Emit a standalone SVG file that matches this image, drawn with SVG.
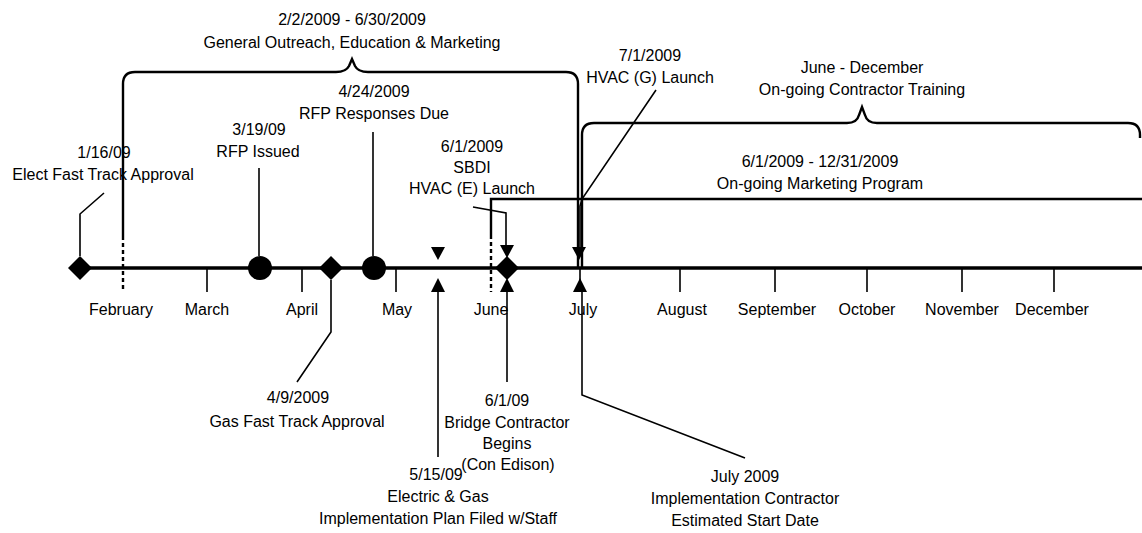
<svg xmlns="http://www.w3.org/2000/svg" width="1142" height="533" viewBox="0 0 1142 533">
<style>
.t{font-family:"Liberation Sans",Arial,sans-serif;font-size:16px;fill:#000;text-anchor:middle}
.axis{stroke:#000;stroke-width:3.5;fill:none}
.tick{stroke:#000;stroke-width:1.6;fill:none}
.lead{fill:none;stroke:#000;stroke-width:1.6}
.brace{fill:none;stroke:#000;stroke-width:2.4}
.dash{fill:none;stroke:#000;stroke-width:2.4;stroke-dasharray:4,3}
.mk{fill:#000;stroke:none}
</style>
<defs>
<path id="dn" d="M-7,0 H7 L0,13 Z"/>
<path id="up" d="M-7,14 H7 L0,0 Z"/>
<path id="dia" d="M0,-12 L12,0 L0,12 L-12,0 Z"/>
</defs>
<rect width="1142" height="533" fill="#fff"/>

<g id="connectors">
<path class="lead" d="M80,256 V214 L104,193"/>
<path class="lead" d="M259,256 V168"/>
<path class="lead" d="M331,280 V332 L297,382"/>
<path class="lead" d="M373,256 V132"/>
<path class="lead" d="M438,292 V457"/>
<path class="lead" d="M473,207 L506,213 V247"/>
<path class="lead" d="M507,292 V382"/>
<path class="lead" d="M656,90 L582,199 L580,206 V247"/>
<path class="lead" d="M582,292 V395 L745,458"/>
</g>

<g id="timeline">
<line class="axis" x1="80" y1="268" x2="1142" y2="268"/>
<path class="tick" d="M207,268 V292 M302,268 V292 M396,268 V292 M580,268 V292 M680,268 V292 M775,268 V292 M867,268 V292 M962,268 V292 M1054,268 V292"/>
<text class="t" x="121" y="315">February</text>
<text class="t" x="207" y="315">March</text>
<text class="t" x="302" y="315">April</text>
<text class="t" x="397" y="315">May</text>
<text class="t" x="491" y="315">June</text>
<text class="t" x="583" y="315">July</text>
<text class="t" x="682" y="315">August</text>
<text class="t" x="777" y="315">September</text>
<text class="t" x="867" y="315">October</text>
<text class="t" x="962" y="315">November</text>
<text class="t" x="1052" y="315">December</text>
</g>

<g id="n-outreach">
<path class="brace" d="M123,236 V84 Q123,72 135,72 H336 Q346,72 349,66 L352,59 L355,66 Q358,72 368,72 H566 Q578,72 578,84 V268"/>
<path class="dash" d="M123,236 V292"/>
<text class="t" x="352" y="25">2/2/2009 - 6/30/2009</text>
<text class="t" x="352" y="48">General Outreach, Education &amp; Marketing</text>
</g>

<g id="n-training">
<path class="brace" d="M582,268 V135 Q582,123 594,123 H847 Q857,123 859,115 L862,107 L865,115 Q867,123 877,123 H1128 Q1140,123 1140,135 V138"/>
<text class="t" x="862" y="73">June - December</text>
<text class="t" x="862" y="95">On-going Contractor Training</text>
</g>

<g id="n-marketing">
<path class="brace" d="M491,235 V199 H1142"/>
<path class="dash" d="M491,235 V292"/>
<text class="t" x="820" y="167">6/1/2009 - 12/31/2009</text>
<text class="t" x="820" y="189">On-going Marketing Program</text>
</g>

<g id="n-elect">
<use href="#dia" class="mk" x="80" y="268"/>
<text class="t" x="104" y="158">1/16/09</text>
<text class="t" x="103" y="180">Elect Fast Track Approval</text>
</g>

<g id="n-rfp-issued">
<circle class="mk" cx="260" cy="268" r="12"/>
<text class="t" x="259" y="135">3/19/09</text>
<text class="t" x="258" y="157">RFP Issued</text>
</g>

<g id="n-gas">
<use href="#dia" class="mk" x="331" y="268"/>
<text class="t" x="298" y="403">4/9/2009</text>
<text class="t" x="297" y="427">Gas Fast Track Approval</text>
</g>

<g id="n-rfp-due">
<circle class="mk" cx="374" cy="268" r="12"/>
<text class="t" x="374" y="97">4/24/2009</text>
<text class="t" x="374" y="119">RFP Responses Due</text>
</g>

<g id="n-plan">
<use href="#dn" class="mk" x="438" y="247"/>
<use href="#up" class="mk" x="438" y="278"/>
<text class="t" x="436" y="480">5/15/09</text>
<text class="t" x="438" y="502">Electric &amp; Gas</text>
<text class="t" x="438" y="524">Implementation Plan Filed w/Staff</text>
</g>

<g id="n-sbdi">
<use href="#dn" class="mk" x="507" y="245"/>
<text class="t" x="472" y="152">6/1/2009</text>
<text class="t" x="472" y="173">SBDI</text>
<text class="t" x="472" y="194">HVAC (E) Launch</text>
</g>

<g id="n-bridge">
<use href="#dia" class="mk" x="507" y="268"/>
<use href="#up" class="mk" x="507" y="278"/>
<text class="t" x="507" y="406">6/1/09</text>
<text class="t" x="507" y="428">Bridge Contractor</text>
<text class="t" x="507" y="449">Begins</text>
<text class="t" x="508" y="470">(Con Edison)</text>
</g>

<g id="n-hvacg">
<use href="#dn" class="mk" x="579" y="247"/>
<text class="t" x="650" y="61">7/1/2009</text>
<text class="t" x="650" y="83">HVAC (G) Launch</text>
</g>

<g id="n-impl">
<use href="#up" class="mk" x="580" y="278"/>
<text class="t" x="745" y="482">July 2009</text>
<text class="t" x="745" y="504">Implementation Contractor</text>
<text class="t" x="745" y="526">Estimated Start Date</text>
</g>
</svg>
